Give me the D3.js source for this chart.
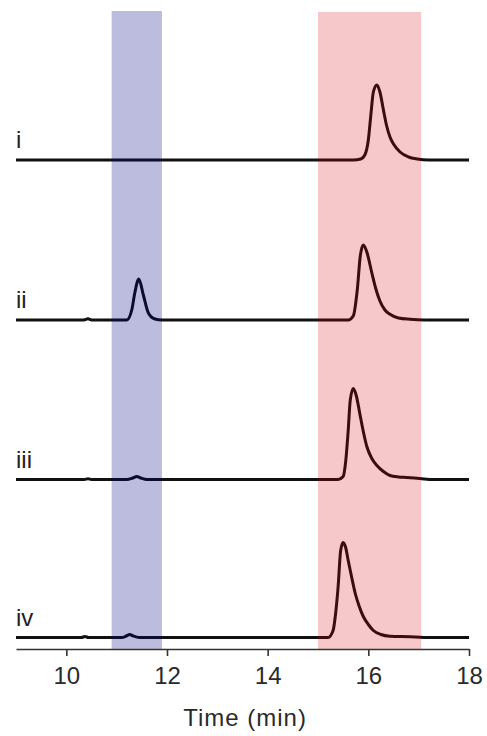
<!DOCTYPE html>
<html>
<head>
<meta charset="utf-8">
<script src="https://cdn.jsdelivr.net/npm/d3@7"></script>
<style>
  html, body { margin: 0; padding: 0; background: #fff; }
  text { font-family: "Liberation Sans", Arial, sans-serif; }
</style>
</head>
<body>
<div id="chart"></div>
<script>
// trace labels, top to bottom
var traceNames = ["i", "ii", "iii", "iv"];

// [time (min), signal]
var traceI = [[9,0],[15.7,0],[15.85,1],[15.93,5],[16.0,20],[16.05,45],[16.1,68],[16.17,75],[16.23,68],
  [16.3,50],[16.36,35],[16.43,23],[16.5,16],[16.63,8],[16.8,3],[16.97,1],[17.2,0],[18,0]];

var traceII = [[9,0],[10.35,0],[10.43,1.2],[10.5,0],[11.2,0],[11.3,10],[11.36,27],[11.44,41],[11.53,25],
  [11.63,7],[11.76,1],[11.9,0],[15.6,0],[15.7,4],[15.78,30],[15.84,64],[15.9,75],[15.97,68],[16.07,47],
  [16.15,31],[16.23,19],[16.33,10],[16.43,5.7],[16.6,2],[16.83,0.7],[17.1,0],[18,0]];

var traceIII = [[9,0],[10.36,0],[10.43,0.8],[10.5,0],[11.2,0],[11.32,1.5],[11.4,3],[11.48,1.5],[11.6,0],
  [15.4,0],[15.5,3],[15.55,18],[15.6,49],[15.64,79],[15.7,91],[15.76,84],[15.83,66],[15.9,48],[15.97,33],
  [16.07,21],[16.17,14],[16.3,8],[16.43,4],[16.6,2.5],[16.76,2],[17.02,1],[17.3,0],[18,0]];

var traceIV = [[9,0],[10.3,0],[10.37,1],[10.44,0],[11.1,0],[11.19,1.5],[11.26,3],[11.33,1.5],[11.45,0],
  [15.2,0],[15.3,7],[15.35,24],[15.4,51],[15.45,87],[15.5,95],[15.55,90],[15.6,77],[15.67,60],[15.74,44],
  [15.82,31],[15.9,21],[16.0,13],[16.1,7],[16.25,3],[16.43,1.3],[16.83,0.7],[17.1,0],[18,0]];

var traces = [traceI, traceII, traceIII, traceIV];

// highlighted time windows [start, end]
var bandBlue = [10.9, 11.9];
var bandRed = [15.0, 17.05];

var xTicks = [10, 12, 14, 16, 18];
var xTitle = "Time (min)";

var width = 487, height = 736;

var svg = d3.select("#chart").append("svg")
  .attr("width", width)
  .attr("height", height);

var x = d3.scaleLinear().domain([9, 18]).range([16, 469]);
var y = d3.scaleLinear().domain([0, 640]).range([649, 9]);

// vertical stacking of the traces (signal units)
var offsets = [489, 329, 169.5, 11.5];

var line = d3.line()
  .x(function(d) { return x(d[0]); })
  .y(function(d) { return y(d[1]); })
  .curve(d3.curveMonotoneX);

var g = svg.append("g");

// traces
g.selectAll("path.trace")
  .data(traces)
  .enter().append("path")
  .attr("class", "trace")
  .attr("fill", "none")
  .attr("stroke", "#111")
  .attr("stroke-width", 3)
  .attr("stroke-linejoin", "round")
  .attr("d", function(d, i) {
    var off = offsets[i];
    return line(d.map(function(p) { return [p[0], p[1] + off]; }));
  });

// bands drawn on top, semi transparent (tints the trace underneath)
g.append("rect")
  .attr("x", x(bandBlue[0]))
  .attr("width", x(bandBlue[1]) - x(bandBlue[0]))
  .attr("y", 11)
  .attr("height", 649 - 11)
  .attr("fill", "rgb(0,0,129)")
  .attr("fill-opacity", 0.263);

g.append("rect")
  .attr("x", x(bandRed[0]))
  .attr("width", x(bandRed[1]) - x(bandRed[0]))
  .attr("y", 12)
  .attr("height", 649 - 12)
  .attr("fill", "rgb(218,0,5)")
  .attr("fill-opacity", 0.216);

// trace labels
g.selectAll("text.lab")
  .data(traceNames)
  .enter().append("text")
  .attr("class", "lab")
  .attr("x", 16)
  .attr("y", function(d, i) { return y(offsets[i]) - 12; })
  .attr("font-size", 24)
  .attr("fill", "#222")
  .text(function(d) { return d; });

// x axis
var axis = svg.append("g")
  .attr("transform", "translate(0,649)")
  .call(d3.axisBottom(x).tickValues(xTicks).tickSize(7).tickSizeOuter(0).tickPadding(11));

axis.select(".domain").attr("stroke", "#333").attr("stroke-width", 1.6);
axis.selectAll(".tick line").attr("stroke", "#333").attr("stroke-width", 1.6);
axis.selectAll(".tick text")
  .attr("font-size", 24)
  .attr("font-family", "'Liberation Sans', Arial, sans-serif")
  .attr("fill", "#2a2a2a");

svg.append("text")
  .attr("x", x(13.55))
  .attr("y", 726)
  .attr("text-anchor", "middle")
  .attr("font-size", 24)
  .attr("letter-spacing", 1)
  .attr("fill", "#2a2a2a")
  .text(xTitle);
</script>
</body>
</html>
